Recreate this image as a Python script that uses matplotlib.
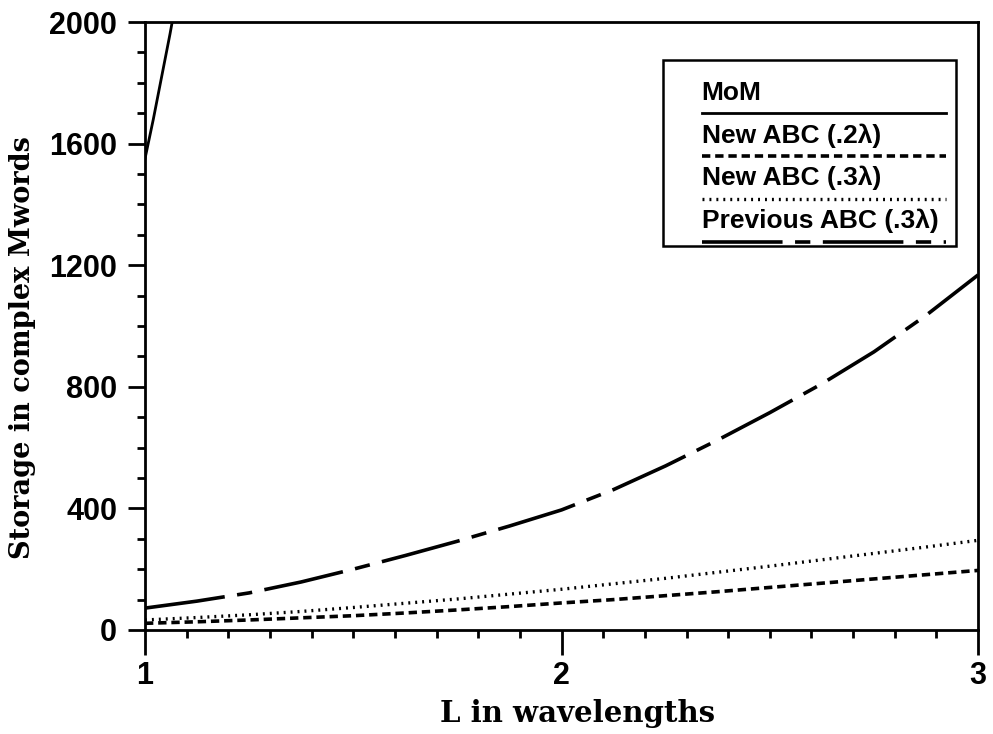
import matplotlib
matplotlib.use('Agg')
import matplotlib.pyplot as plt
from matplotlib.lines import Line2D
from matplotlib.patches import Rectangle
from matplotlib.ticker import MultipleLocator

# values
L_mom = [1.0, 1.02, 1.04, 1.06, 1.08]
mom = [1550, 1680, 1820, 1960, 2110]

L_ref = [1.0, 1.125, 1.25, 1.375, 1.5, 1.625, 1.75, 1.875, 2.0,
         2.125, 2.25, 2.375, 2.5, 2.625, 2.75, 2.875, 3.0]
new_02 = [22, 27, 33, 40, 47, 56, 66, 77, 89, 100, 113, 126, 140, 154, 168, 182, 196]
new_03 = [33, 41, 50, 61, 74, 88, 102, 118, 134, 152, 170, 190, 210, 231, 252, 273, 295]
prev_03 = [72, 95, 122, 158, 200, 245, 292, 342, 395, 462, 540, 625, 715, 810, 915, 1035, 1168]

labels = ['MoM', 'New ABC (.2\u03bb)', 'New ABC (.3\u03bb)', 'Previous ABC (.3\u03bb)']

plt.rcParams['lines.scale_dashes'] = False

fig = plt.figure(figsize=(9.93, 7.34), dpi=100)
ax = fig.add_axes([0.146, 0.1417, 0.839, 0.8283])

styles = ['-', (0, (6, 3.5)), (0, (1.4, 3.6)), (0, (58, 9, 11, 9))]
widths = [2.0, 2.6, 2.4, 2.6]

ax.plot(L_mom, mom, color='black', lw=widths[0], linestyle=styles[0])
ax.plot(L_ref, new_02, color='black', lw=widths[1], linestyle=styles[1])
ax.plot(L_ref, new_03, color='black', lw=widths[2], linestyle=styles[2])
ax.plot(L_ref, prev_03, color='black', lw=widths[3], linestyle=styles[3])

ax.set_xlim(1, 3)
ax.set_ylim(0, 2000)
ax.set_xticks([1, 2, 3])
ax.set_yticks([0, 400, 800, 1200, 1600, 2000])
ax.xaxis.set_minor_locator(MultipleLocator(0.1))
ax.yaxis.set_minor_locator(MultipleLocator(100))
ax.tick_params(which='major', direction='out', length=12, width=2, pad=8)
ax.tick_params(axis='x', which='major', length=18, pad=4)
ax.tick_params(which='minor', direction='out', length=6, width=2)
for s in ax.spines.values():
    s.set_linewidth(2)
for t in ax.get_xticklabels() + ax.get_yticklabels():
    t.set_fontfamily('Liberation Sans')
    t.set_fontweight('bold')
    t.set_fontsize(22)

ax.set_xlabel('L in wavelengths', family='DejaVu Serif', weight='bold', size=21)
ax.set_ylabel('Storage in complex Mwords', family='DejaVu Serif', weight='bold', size=19.5)
ax.xaxis.set_label_coords(0.519, -0.113)
ax.yaxis.set_label_coords(-0.131, 0.465)

# legend box drawn by hand: label text with its line underneath
ax.add_patch(Rectangle((0.622, 0.632), 0.352, 0.306, transform=ax.transAxes,
                       fill=False, lw=1.8, color='black', zorder=5))
y0 = 0.884
for i, (lab, ls, w) in enumerate(zip(labels, styles, widths)):
    y = y0 - i * 0.0705
    ax.text(0.668, y, lab, transform=ax.transAxes, fontsize=19,
            family='Liberation Sans', weight='bold', va='center', zorder=6)
    ax.add_line(Line2D([0.668, 0.961], [y - 0.034, y - 0.034], transform=ax.transAxes,
                       color='black', lw=w, linestyle=ls, zorder=6))

fig.savefig('out.png', dpi=100)
